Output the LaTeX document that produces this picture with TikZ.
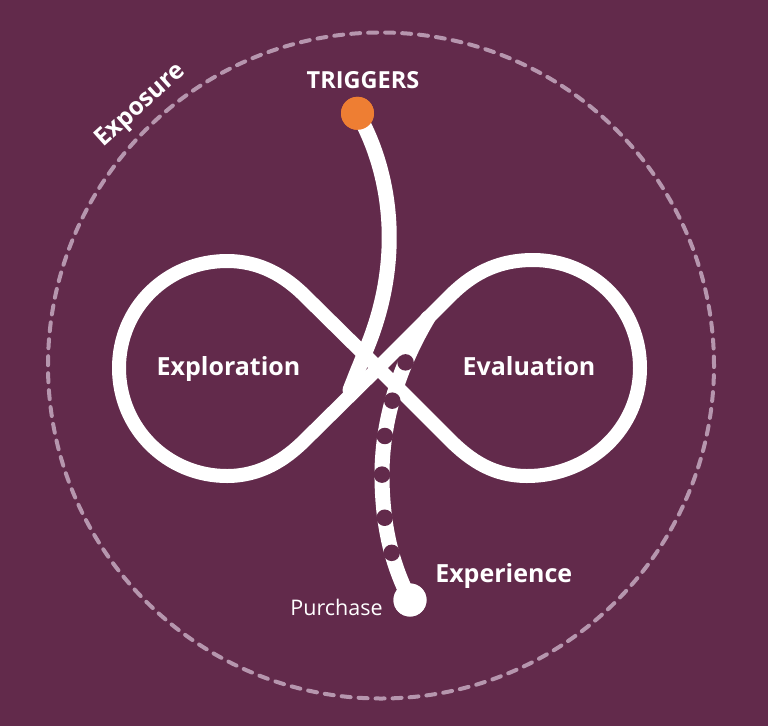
\documentclass[tikz,border=0pt]{standalone}
\usepackage{fontspec}
\setmainfont{Open Sans}
\definecolor{bg}{HTML}{622A4B}
\definecolor{dashc}{HTML}{B696AE}
\definecolor{trig}{HTML}{EE7E33}
\begin{document}
\begin{tikzpicture}[x=1pt,y=-1pt,
  loopline/.style={draw=white,line width=14pt,line join=round},
  pathline/.style={draw=white,line width=15pt,line cap=round},
  lbl/.style={text=white,inner sep=0pt,anchor=base,font=\bfseries\fontsize{25}{30}\selectfont},
  smalllbl/.style={text=white,inner sep=0pt,anchor=base,font=\bfseries\fontsize{23.5}{28}\selectfont},
  reglbl/.style={text=white,inner sep=0pt,anchor=base,font=\fontsize{21.5}{26}\selectfont},
  endpt/.style={circle,inner sep=0pt,minimum size=33pt},
  gapdot/.style={circle,fill=bg,draw=none,inner sep=0pt,minimum size=16.5pt}
]
\useasboundingbox (0,0) rectangle (768,726);
\fill[bg] (0,0) rectangle (768,726);
% exposure circle
\draw[dashc,line width=4pt,line cap=round,dash pattern=on 9pt off 8pt] (381,365.5) circle[radius=333pt];
\node[text=white,inner sep=0pt,rotate=42,font=\bfseries\fontsize{24.5}{29}\selectfont] (expo) at (141,106) {Exposure};
% infinity loop
\draw[loopline] (378,368) -- (305,296)
   .. controls (285,276) and (260,261) .. (227,261)
   .. controls (167,261) and (119,308) .. (119,368)
   .. controls (119,428) and (167,476) .. (227,476)
   .. controls (260,476) and (285,460) .. (305,440)
   -- (378,368) -- (450,296)
   .. controls (470,276) and (495,260) .. (533,260)
   .. controls (593,260) and (640,308) .. (640,368)
   .. controls (640,428) and (590,476) .. (527,476)
   .. controls (495,476) and (472,462) .. (450,440)
   -- cycle;
% nodes
\node[endpt,fill=trig] (trg) at (357.5,113.3) {};
\node[endpt,fill=white] (pur) at (410,600) {};
\coordinate (merge) at (350,390);
\coordinate (branch) at (428,318);
\coordinate (mid) at (382,480);
% trigger line
\draw[pathline] (trg.center) .. controls (390,170) and (404,255) .. (368,345)
   .. controls (362,360) and (357,372) .. (merge);
% experience line
\draw[pathline] (branch) .. controls (400,365) and (381,420) .. (mid)
   .. controls (383,535) and (395,570) .. (pur.center);
\path (branch) .. controls (400,365) and (381,420) .. (mid)
     node[gapdot,pos=0.3] (d1) {} node[gapdot,pos=0.54] (d2) {}
     node[gapdot,pos=0.75] (d3) {} node[gapdot,pos=0.97] (d4) {}
   .. controls (383,535) and (395,570) .. (pur.center)
     node[gapdot,pos=0.25] (d5) {} node[gapdot,pos=0.53] (d6) {};
\node[endpt,fill=trig] at (trg) {};
\node[endpt,fill=white] at (pur) {};
% labels
\node[smalllbl] (tl) at (363,88) {TRIGGERS};
\node[lbl] (explo) at (228.5,375) {Exploration};
\node[lbl] (eval) at (529,375) {Evaluation};
\node[lbl] (exper) at (503.7,582.7) {Experience};
\node[reglbl] (purl) at (336.5,615.7) {Purchase};
\end{tikzpicture}
\end{document}
